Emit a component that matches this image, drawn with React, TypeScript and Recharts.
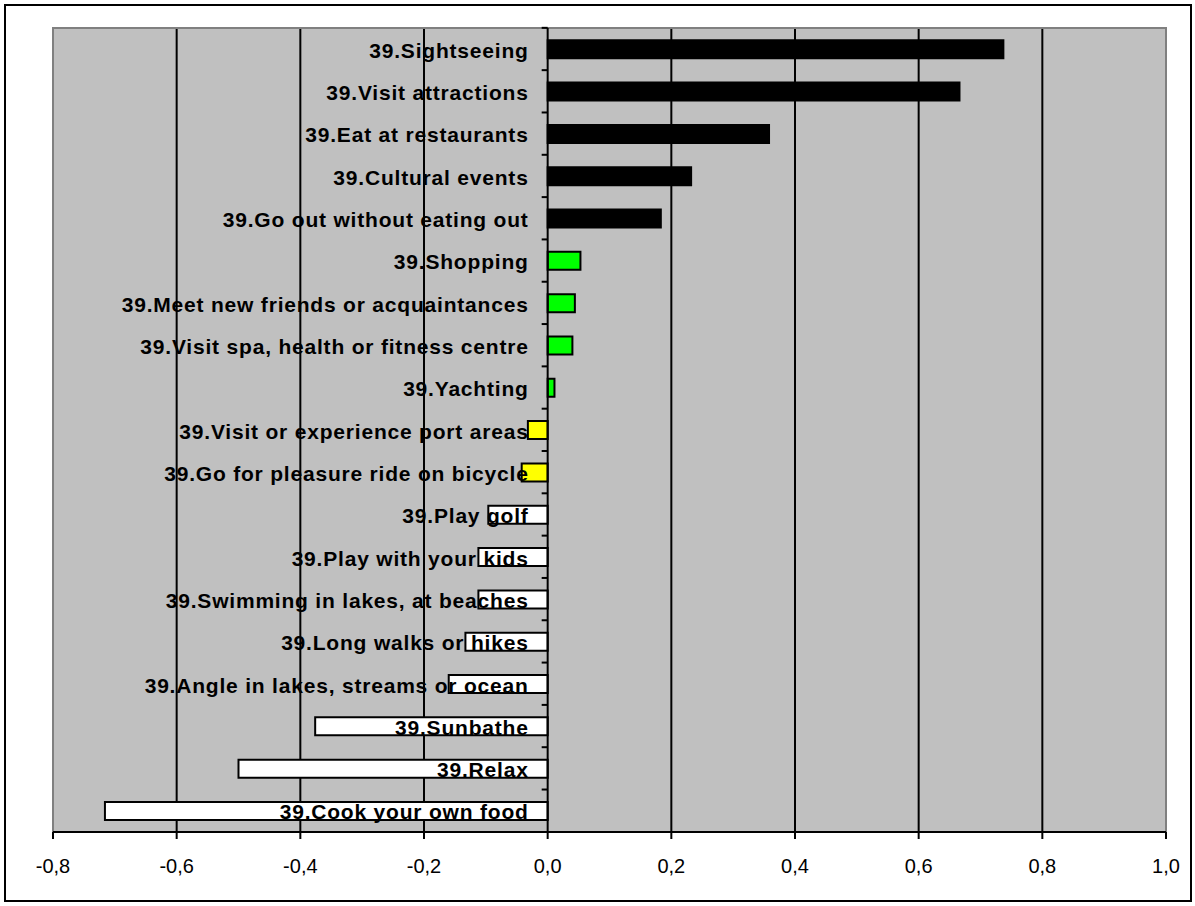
import React from 'react';
import { BarChart, Bar, XAxis, YAxis, CartesianGrid, ReferenceLine, ReferenceArea, LabelList, Cell } from 'recharts';

const categories = [
  '39.Sightseeing',
  '39.Visit attractions',
  '39.Eat at restaurants',
  '39.Cultural events',
  '39.Go out without eating out',
  '39.Shopping',
  '39.Meet new friends or acquaintances',
  '39.Visit spa, health or fitness centre',
  '39.Yachting',
  '39.Visit or experience port areas',
  '39.Go for pleasure ride on bicycle',
  '39.Play golf',
  '39.Play with your kids',
  '39.Swimming in lakes, at beaches',
  '39.Long walks or hikes',
  '39.Angle in lakes, streams or ocean',
  '39.Sunbathe',
  '39.Relax',
  '39.Cook your own food',
];

const values = [
  0.737, 0.666, 0.358, 0.232, 0.183, 0.053, 0.044, 0.040, 0.011,
  -0.032, -0.042, -0.096, -0.112, -0.112, -0.133, -0.160, -0.376, -0.500, -0.716,
];

const colors = [
  '#000000', '#000000', '#000000', '#000000', '#000000',
  '#00FF00', '#00FF00', '#00FF00', '#00FF00',
  '#FFFF00', '#FFFF00',
  '#FFFFFF', '#FFFFFF', '#FFFFFF', '#FFFFFF', '#FFFFFF', '#FFFFFF', '#FFFFFF', '#FFFFFF',
];

const xTicks = [-0.8, -0.6, -0.4, -0.2, 0.0, 0.2, 0.4, 0.6, 0.8, 1.0];
const gridValues = [-0.6, -0.4, -0.2, 0.2, 0.4, 0.6, 0.8];

const data = categories.map((name, i) => ({ name, value: values[i] }));

const FONT = '"Liberation Sans", Arial, sans-serif';
const GAP = 0.29;

const renderLabel = (props: any) => {
  const { x, y, height, value } = props;
  const zero = Number(x);
  const cy = Number(y) + Number(height) / 2;
  const band = Number(height) / (1 - 2 * GAP);
  const top = cy - band / 2;
  return (
    <g>
      <line x1={zero - 6} x2={zero} y1={top} y2={top} stroke="#000" strokeWidth={2} />
      <text
        x={zero - 19}
        y={cy + 1}
        textAnchor="end"
        dominantBaseline="central"
        fontFamily={FONT}
        fontWeight="bold"
        fontSize={21}
        letterSpacing={0.8}
        fill="#000"
      >
        {value}
      </text>
    </g>
  );
};

export default function App() {
  return (
    <div style={{ position: 'absolute', left: 0, top: 0, width: 1195, height: 906, background: '#fff' }}>
      <div
        style={{
          position: 'absolute',
          left: 4,
          top: 4,
          width: 1184,
          height: 894,
          border: '2px solid #000',
        }}
      />
      <div style={{ position: 'absolute', left: 0, top: 0 }}>
        <BarChart
          width={1195}
          height={906}
          data={data}
          layout="vertical"
          margin={{ top: 28, right: 29, bottom: 0, left: 53 }}
          barCategoryGap={`${GAP * 100}%`}
        >
          <CartesianGrid
            fill="#C0C0C0"
            horizontal={false}
            vertical={true}
            verticalValues={gridValues}
            stroke="#000"
            strokeWidth={2}
          />
          <ReferenceArea x1={-0.8} x2={1.0} fill="none" stroke="#808080" strokeWidth={2} ifOverflow="visible" />
          <XAxis
            type="number"
            domain={[-0.8, 1.0]}
            ticks={xTicks}
            height={74}
            axisLine={{ stroke: '#000', strokeWidth: 2 }}
            tickLine={{ stroke: '#000', strokeWidth: 2 }}
            tickSize={7}
            tickMargin={20}
            tick={{ fill: '#000', fontSize: 20, fontFamily: FONT }}
            tickFormatter={(v: number) => v.toFixed(1).replace('.', ',')}
            interval={0}
          />
          <YAxis type="category" dataKey="name" hide width={0} />
          <Bar dataKey="value" stroke="#000" strokeWidth={2} isAnimationActive={false}>
            {data.map((d, i) => (
              <Cell key={d.name} fill={colors[i]} />
            ))}
            <LabelList dataKey="name" content={renderLabel} />
          </Bar>
          <ReferenceLine x={0} stroke="#000" strokeWidth={2} />
        </BarChart>
      </div>
    </div>
  );
}
